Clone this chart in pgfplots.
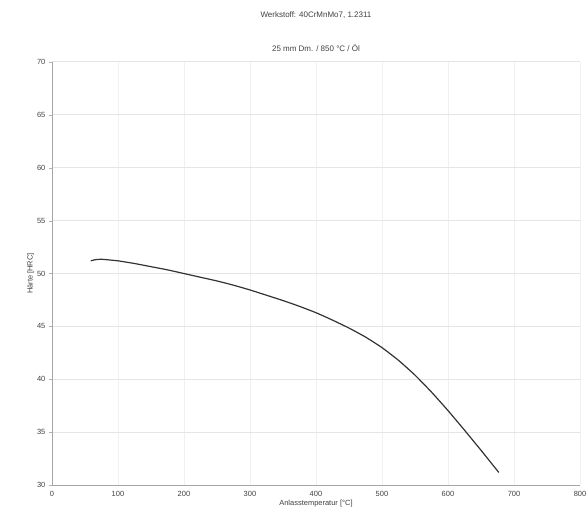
\documentclass[border=0pt]{standalone}
\usepackage{pgfplots}
\pgfplotsset{compat=1.18}
\usepackage{fontspec}
\setmainfont{Liberation Sans}

\begin{document}
\begin{tikzpicture}
\begin{axis}[
    name=ax,
    scale only axis,
    width=529pt, height=424pt,
    xmin=0, xmax=800,
    ymin=30, ymax=70,
    xtick={0,100,...,800},
    ytick={30,35,...,70},
    axis x line=bottom,
    axis y line=left,
    axis line style={-, gray!70, line width=0.8pt},
    tick style={gray!60},
    tick align=outside,
    major tick length=3pt,
    xtick style={draw=none},
    grid=both,
    x grid style={gray!12, line width=0.6pt},
    y grid style={gray!20, line width=0.9pt},
    tick label style={font=\fontsize{7.5}{9}\selectfont, text=black!75},
    /pgf/number format/assume math mode=true,
    xlabel={Anlasstemperatur [°C]},
    ylabel={Härte [HRC]},
    label style={font=\fontsize{7.5}{9}\selectfont, text=black!75},
    xlabel style={yshift=4pt},
    ylabel style={yshift=-4pt},
    clip=false,
]
\addplot[black!80, line width=1.2pt, smooth, tension=0.3] coordinates {
    (59,51.2) (65,51.3) (75,51.35) (100,51.2) (125,50.95) (150,50.65)
    (175,50.35) (200,50.0) (225,49.65) (250,49.3) (275,48.9) (300,48.45)
    (325,47.95) (350,47.45) (375,46.9) (400,46.3) (425,45.6) (450,44.85)
    (475,44.0) (500,43.0) (525,41.8) (550,40.4) (575,38.8) (600,37.05)
    (625,35.2) (650,33.3) (677,31.2)
};
\node[font=\fontsize{8}{10}\selectfont, text=black!75] at ([yshift=47pt]rel axis cs:0.5,1) {Werkstoff: 40CrMnMo7, 1.2311};
\node[font=\fontsize{8}{10}\selectfont, text=black!75] at ([yshift=14pt]rel axis cs:0.5,1) {25 mm Dm. / 850 °C / Öl};
\end{axis}
\pgfresetboundingbox
\path[use as bounding box] ([xshift=-52pt,yshift=-33pt]ax.south west) rectangle ([xshift=7pt,yshift=62pt]ax.north east);
\end{tikzpicture}
\end{document}
